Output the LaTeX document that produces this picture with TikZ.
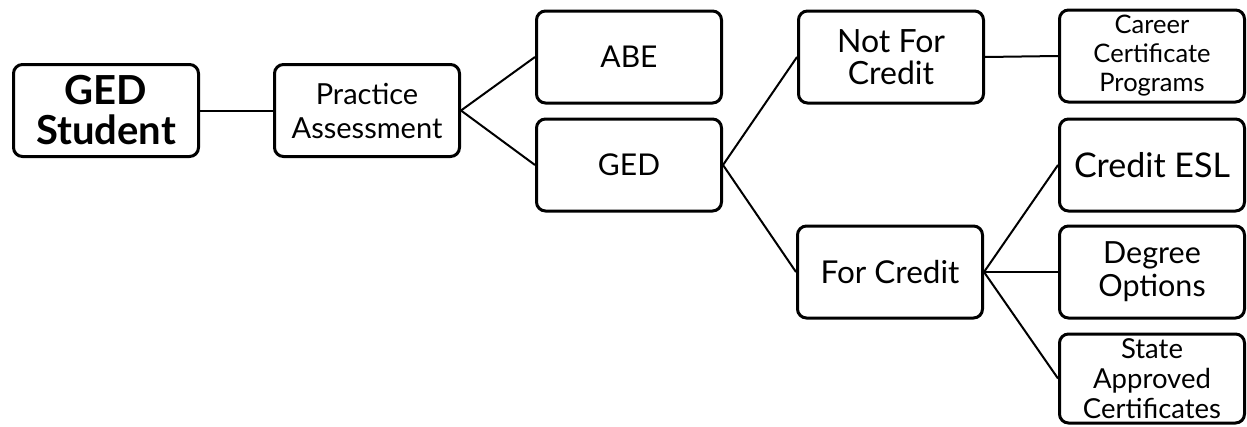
\documentclass[tikz,border=0pt]{standalone}
\usepackage{fontspec}
\setmainfont{Lato}
\begin{document}
\begin{tikzpicture}[x=1pt,y=-1pt,
  box/.style={draw=black, line width=3pt, rounded corners=9pt, fill=white,
    minimum width=185pt, minimum height=92pt, inner sep=1pt, align=center,
    font=\fontsize{30}{32}\selectfont},
  link/.style={line width=2pt}]
\useasboundingbox (0,0) rectangle (1247,426);
\node[box, font=\bfseries\fontsize{40}{40}\selectfont] (stud) at (106,110.5) {GED\\Student};
\node[box, font=\fontsize{29}{34}\selectfont] (prac) at (367,110.5) {Practice\\Assessment};
\node[box] (abe) at (629,57) {ABE};
\node[box] (ged) at (629,165) {GED};
\node[box, font=\fontsize{32}{32}\selectfont] (nfc) at (891,57) {Not For\\Credit};
\node[box, font=\fontsize{31.5}{32}\selectfont] (fc) at (890,272) {For Credit};
\node[box, font=\fontsize{25.5}{29}\selectfont] (car) at (1152,56) {Career\\Certificate\\Programs};
\node[box, font=\fontsize{34}{36}\selectfont] (esl) at (1152,165) {Credit ESL};
\node[box, font=\fontsize{30.5}{33}\selectfont] (deg) at (1152,272) {Degree\\Options};
\node[box, minimum height=89pt, font=\fontsize{27.5}{30}\selectfont] (sac) at (1152,378.5) {State\\Approved\\Certificates};
\draw[link] (stud.east) -- (prac.west);
\draw[link] (prac.east) -- (abe.west);
\draw[link] (prac.east) -- (ged.west);
\draw[link] (ged.east) -- (nfc.west);
\draw[link] (ged.east) -- (fc.west);
\draw[link] (nfc.east) -- (car.west);
\draw[link] (fc.east) -- (esl.west);
\draw[link] (fc.east) -- (deg.west);
\draw[link] (fc.east) -- (sac.west);
\end{tikzpicture}
\end{document}
